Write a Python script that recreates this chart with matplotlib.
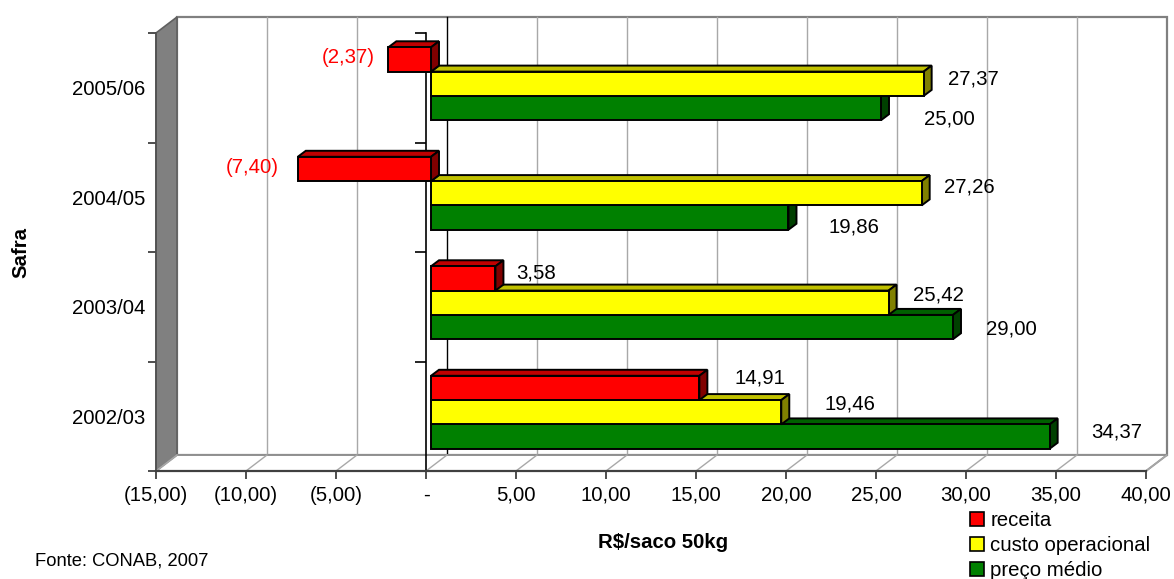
import numpy as np
import matplotlib.pyplot as plt
from matplotlib.patches import Polygon, Patch

plt.rcParams['font.family'] = ['Liberation Sans', 'DejaVu Sans']

# data
safras = ['2005/06', '2004/05', '2003/04', '2002/03']
receita = [-2.37, -7.40, 3.58, 14.91]
custo = [27.37, 27.26, 25.42, 19.46]
preco = [25.00, 19.86, 29.00, 34.37]
series_names = ['receita', 'custo operacional', 'preço médio']

# styling
face = ['#FF0000', '#FFFF00', '#008000']
top_c = ['#C00000', '#C0C000', '#006000']
side_c = ['#800000', '#808000', '#004000']
FS = 14.7
WALL = (21, 16)     # depth of the box, screen px
FRONT = (5, 4)      # bar front plane
BACK = (13, 10)     # bar back plane
BAR_H = 0.222
# label nudges (px, image down positive) per category / series
nudge = [
    [(-40, -1.5), (50, -5), (68, 11)],
    [(-46, -1), (48, -6.5), (65.5, 9.5)],
    [(40.6, -5.5), (49.4, -8), (58, 2)],
    [(60.6, -10), (69, -8.5), (67, -4.5)],
]


def fmt(v):
    if abs(v) < 1e-9:
        return '-'
    s = f'{abs(v):.2f}'.replace('.', ',')
    return f'({s})' if v < 0 else s


def main():
    fig = plt.figure(figsize=(11.74, 5.79), dpi=100)
    W, H = 1174, 579
    ax = fig.add_axes([156 / W, (H - 471) / H, 990 / W, 438 / H])
    ax.set_xlim(-15, 40)
    ax.set_ylim(4, 0)
    ax.patch.set_visible(False)

    def sh(x, y, off):
        p = ax.transData.transform((x, y))
        return ax.transData.inverted().transform(p + np.array(off))

    def poly(pts, **kw):
        ax.add_patch(Polygon(pts, closed=True, clip_on=False, **kw))

    def line(xs, ys, **kw):
        ax.plot(xs, ys, clip_on=False, **kw)

    xmin, xmax = -15, 40
    # back wall
    poly([sh(xmin, 0, WALL), sh(xmax, 0, WALL), sh(xmax, 4, WALL), sh(xmin, 4, WALL)],
         facecolor='white', edgecolor='#808080', lw=1.6, zorder=0)
    # side wall
    poly([(xmin, 0), sh(xmin, 0, WALL), sh(xmin, 4, WALL), (xmin, 4)],
         facecolor='#808080', edgecolor='#606060', lw=1.2, zorder=1)
    # floor
    poly([(xmin, 4), (xmax, 4), sh(xmax, 4, WALL), sh(xmin, 4, WALL)],
         facecolor='white', edgecolor='#909090', lw=1.4, zorder=1)
    ticks = np.arange(-15, 41, 5)
    for t in ticks:
        a, b = sh(t, 0, WALL), sh(t, 4, WALL)
        col = 'black' if t == 0 else '#A8A8A8'
        if t not in (xmin, xmax):
            line([a[0], b[0]], [a[1], b[1]], color=col, lw=1.0, zorder=0.5)
        c = sh(t, 4, WALL)
        line([t, c[0]], [4, c[1]], color='#A8A8A8', lw=1.0, zorder=1.5)

    # category axis at zero
    line([0, 0], [0, 4], color='black', lw=1.2, zorder=2)
    line([0] * 5, range(5), ls='none', marker=0, ms=8, mew=1.2, color='black', zorder=2)

    # front axes
    for s in ['top', 'right']:
        ax.spines[s].set_visible(False)
    ax.spines['bottom'].set_color('#404040')
    ax.spines['bottom'].set_linewidth(1.6)
    ax.spines['left'].set_color('#505050')
    ax.spines['left'].set_linewidth(1.2)
    ax.set_xticks(ticks)
    ax.set_xticklabels([fmt(t) for t in ticks])
    ax.tick_params(axis='x', length=5.5, width=1.2, color='#303030', labelsize=FS, pad=5)
    ax.set_yticks(range(5))
    ax.set_yticklabels([])
    ax.set_yticks(np.arange(4) + 0.5, minor=True)
    ax.set_yticklabels(safras, minor=True)
    ax.tick_params(axis='y', which='major', length=6, width=1.2, color='#303030')
    ax.tick_params(axis='y', which='minor', length=0, labelsize=FS, pad=8)

    # bars
    allv = [receita, custo, preco]
    for i in range(len(safras)):
        centre = i + 0.5
        for k in (2, 1, 0):
            v = allv[k][i]
            yc = centre + (k - 1) * BAR_H
            yt, yb = yc - BAR_H / 2, yc + BAR_H / 2
            x0, x1 = min(0, v), max(0, v)
            front = [sh(x0, yt, FRONT), sh(x1, yt, FRONT), sh(x1, yb, FRONT), sh(x0, yb, FRONT)]
            top = [sh(x0, yt, FRONT), sh(x1, yt, FRONT), sh(x1, yt, BACK), sh(x0, yt, BACK)]
            right = [sh(x1, yt, FRONT), sh(x1, yt, BACK), sh(x1, yb, BACK), sh(x1, yb, FRONT)]
            z = 3 + i * 0.1 + (2 - k) * 0.01
            for pts, col in ((top, top_c[k]), (right, side_c[k]), (front, face[k])):
                poly(pts, facecolor=col, edgecolor='black', lw=1.4, joinstyle='miter', zorder=z)
            dx, dy = nudge[i][k]
            ax.annotate(fmt(v), xy=(v, yc), xycoords='data',
                        xytext=(FRONT[0] + dx, FRONT[1] - dy), textcoords='offset pixels',
                        ha='center', va='center', fontsize=FS,
                        color='red' if v < 0 else 'black', zorder=5)

    fig.text(663 / W, 1 - 543 / H, r'R\$/saco 50kg', fontsize=FS, fontweight='bold',
             ha='center', va='center')
    fig.text(21 / W, 1 - 252 / H, 'Safra', fontsize=FS, fontweight='bold',
             rotation=90, ha='center', va='center')
    fig.text(35 / W, 1 - 561 / H, 'Fonte: CONAB, 2007', fontsize=13.2,
             ha='left', va='center')

    handles = [Patch(facecolor=face[k], edgecolor='black', lw=1.2) for k in range(3)]
    fig.legend(handles, series_names, loc='upper left',
               bbox_to_anchor=(970 / W, 1 - 511 / H), frameon=False, fontsize=FS,
               borderpad=0, borderaxespad=0, handlelength=0.7, handleheight=0.7,
               handletextpad=0.3, labelspacing=0.3)

    fig.savefig('out.png', dpi=100)


if __name__ == '__main__':
    main()
